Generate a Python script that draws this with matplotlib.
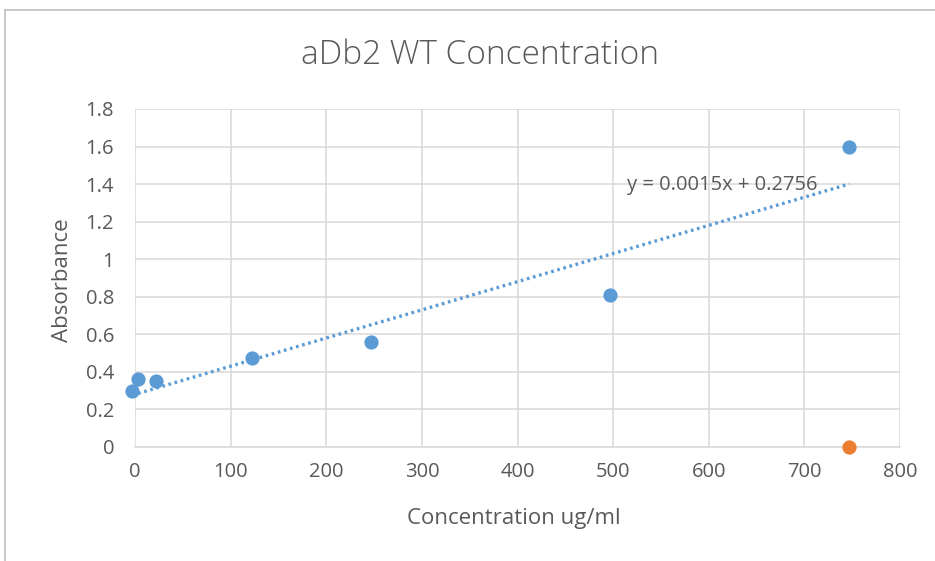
import matplotlib
matplotlib.use("Agg")
import matplotlib.pyplot as plt
import matplotlib.transforms as mtransforms
from matplotlib.lines import Line2D
import numpy as np

plt.rcParams['font.family'] = ['Open Sans', 'DejaVu Sans']

# Standard series (concentration in ug/ml vs absorbance)
conc = [0, 6.25, 25, 125, 250, 500, 750]
absorbance = [0.30, 0.36, 0.35, 0.475, 0.56, 0.81, 1.60]

# Second series
conc_b = [750]
absorbance_b = [0.0]

# Linear trendline coefficients
slope = 0.0015
intercept = 0.2756

x_ticks = [0, 100, 200, 300, 400, 500, 600, 700, 800]
y_ticks = [0, 0.2, 0.4, 0.6, 0.8, 1.0, 1.2, 1.4, 1.6, 1.8]
y_tick_labels = ['0', '0.2', '0.4', '0.6', '0.8', '1', '1.2', '1.4', '1.6', '1.8']

blue = '#5B9BD5'
orange = '#ED7D31'
text_grey = '#595959'
grid_grey = '#D9D9D9'

fig = plt.figure(figsize=(9.35, 5.61), dpi=100)
ax = fig.add_axes([135 / 935, 1 - 447 / 561, (900 - 135) / 935, (447 - 109) / 561])

ax.set_xlim(0, 800)
ax.set_ylim(0, 1.8)
ax.set_xticks(x_ticks)
ax.set_xticklabels([str(v) for v in x_ticks])
ax.set_yticks(y_ticks)
ax.set_yticklabels(y_tick_labels)

ax.grid(True, color=grid_grey, linewidth=1.1, zorder=0)
ax.set_axisbelow(True)
for side in ['top', 'right', 'left']:
    ax.spines[side].set_visible(False)
ax.spines['bottom'].set_color(grid_grey)
ax.spines['bottom'].set_linewidth(1.1)
ax.tick_params(length=0, labelsize=14.5, colors=text_grey)
ax.tick_params(axis='x', pad=11)
ax.tick_params(axis='y', pad=15)

# Series are drawn with a small leftward nudge, as in the source chart
nudge = mtransforms.ScaledTranslation(-3 / 100, 0, fig.dpi_scale_trans)
data_tr = ax.transData + nudge

# Trendline
xt = np.array([min(conc), max(conc)])
ax.plot(xt, slope * xt + intercept, color=blue, linewidth=2.4,
        linestyle=(0, (0.8, 1.1)), dash_capstyle='butt', zorder=2,
        clip_on=False, transform=data_tr)

ax.scatter(conc, absorbance, s=105, color=blue, zorder=3, clip_on=False,
           linewidths=0, transform=data_tr)
ax.scatter(conc_b, absorbance_b, s=105, color=orange, zorder=3, clip_on=False,
           linewidths=0, transform=data_tr)

ax.text(514, 1.397, f'y = {slope:.4f}x + {intercept:.4f}', fontsize=14.5,
        color=text_grey, ha='left', va='center')

ax.set_xlabel('Concentration ug/ml', fontsize=16, color=text_grey)
ax.set_ylabel('Absorbance', fontsize=16, color=text_grey)
ax.xaxis.set_label_coords(0.495, -0.212)
ax.yaxis.set_label_coords(-0.0954, 0.493)
ax.xaxis.label.set_verticalalignment('center')
ax.yaxis.label.set_verticalalignment('center')

fig.text(480 / 935, 1 - 55 / 561, 'aDb2 WT Concentration', fontsize=24,
         color=text_grey, ha='center', va='center', fontweight='light')

# Chart frame
fig.add_artist(Line2D([5 / 935, 1], [1 - 10 / 561, 1 - 10 / 561],
                      color='#BFBFBF', linewidth=1.2, transform=fig.transFigure))
fig.add_artist(Line2D([5 / 935, 5 / 935], [0, 1 - 10 / 561],
                      color='#BFBFBF', linewidth=1.2, transform=fig.transFigure))

fig.savefig('out.png', dpi=100)
